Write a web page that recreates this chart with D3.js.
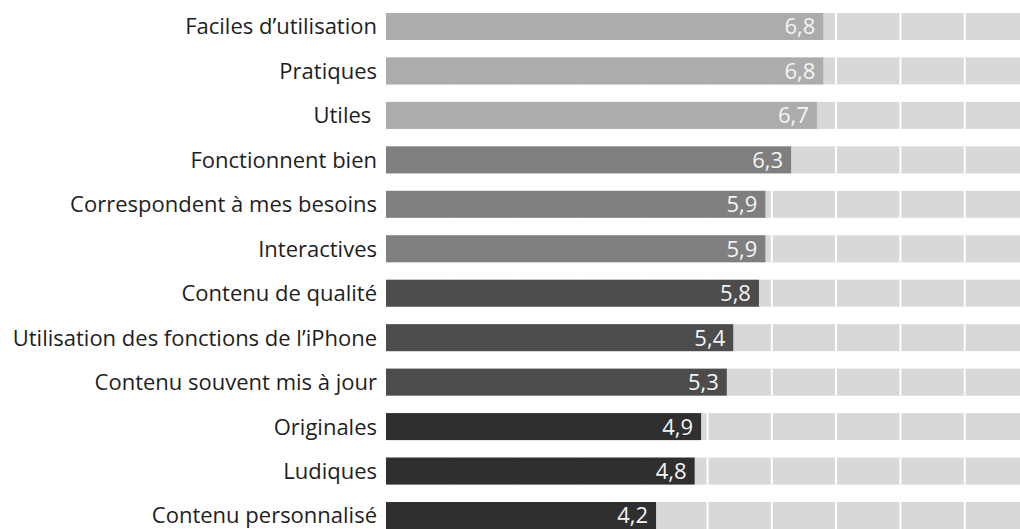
<!DOCTYPE html>
<html>
<head>
<meta charset="utf-8">
<script src="https://cdn.jsdelivr.net/npm/d3@7"></script>
<style>
  body { margin: 0; background: #fff; }
  svg { display: block; }
</style>
</head>
<body>
<div id="chart"></div>
<script>
// data
var categories = [
  "Faciles d\u2019utilisation",
  "Pratiques",
  "Utiles ",
  "Fonctionnent bien",
  "Correspondent \u00e0 mes besoins",
  "Interactives",
  "Contenu de qualit\u00e9",
  "Utilisation des fonctions de l\u2019iPhone",
  "Contenu souvent mis \u00e0 jour",
  "Originales",
  "Ludiques",
  "Contenu personnalis\u00e9"
];
var values = [6.8, 6.8, 6.7, 6.3, 5.9, 5.9, 5.8, 5.4, 5.3, 4.9, 4.8, 4.2];
// shade group of each bar (0 = lightest)
var groups = [0, 0, 0, 1, 1, 1, 2, 2, 2, 3, 3, 3];
var gridTicks = [1, 2, 3, 4, 5, 6, 7, 8, 9];

var W = 1020, H = 529;
var margin = {top: 13, right: 0, bottom: 0, left: 386};

var svg = d3.select("#chart")
  .append("svg")
    .attr("width", W)
    .attr("height", H);

// x: 0..10, the right part is cut off by the page edge
var x = d3.scaleLinear()
  .domain([0, 10])
  .range([margin.left, margin.left + 643]);

var y = d3.scaleBand()
  .domain(categories)
  .range([margin.top, H])
  .paddingInner(0.393)
  .paddingOuter(0);

var shade = d3.scaleOrdinal()
  .domain([0, 1, 2, 3])
  .range(["#acacac", "#7f7f7f", "#4c4c4c", "#2f2f2f"]);

var rows = svg.append("g")
  .selectAll("g")
  .data(categories)
  .enter()
  .append("g");

// background track
rows.append("rect")
  .attr("x", x(0))
  .attr("y", function(d) { return y(d); })
  .attr("width", x(10) - x(0))
  .attr("height", y.bandwidth())
  .attr("fill", "#d8d8d8");

// white grid lines across the tracks
rows.selectAll("line")
  .data(function(d) { return gridTicks.map(function(t) { return {t: t, c: d}; }); })
  .enter()
  .append("line")
    .attr("x1", function(d) { return x(d.t); })
    .attr("x2", function(d) { return x(d.t); })
    .attr("y1", function(d) { return y(d.c); })
    .attr("y2", function(d) { return y(d.c) + y.bandwidth(); })
    .attr("stroke", "#fff")
    .attr("stroke-width", 2);

// bars
rows.append("rect")
  .attr("x", x(0))
  .attr("y", function(d) { return y(d); })
  .attr("width", function(d, i) { return x(values[i]) - x(0); })
  .attr("height", y.bandwidth())
  .attr("fill", function(d, i) { return shade(groups[i]); });

// value labels inside the bar end
rows.append("text")
  .attr("x", function(d, i) { return x(values[i]) - 8; })
  .attr("y", function(d) { return y(d) + y.bandwidth() / 2; })
  .attr("dy", "0.36em")
  .attr("text-anchor", "end")
  .attr("fill", "#f4f4f4")
  .style("font-family", "'Open Sans', sans-serif")
  .style("font-size", "22px")
  .text(function(d, i) { return d3.format(".1f")(values[i]).replace(".", ","); });

// category labels
rows.append("text")
  .attr("x", x(0) - 9)
  .attr("y", function(d) { return y(d) + y.bandwidth() / 2; })
  .attr("dy", "0.36em")
  .attr("text-anchor", "end")
  .attr("fill", "#1e1e1e")
  .style("font-family", "'Open Sans', sans-serif")
  .style("font-size", "22px")
  .style("white-space", "pre")
  .text(function(d) { return d; });
</script>
</body>
</html>
